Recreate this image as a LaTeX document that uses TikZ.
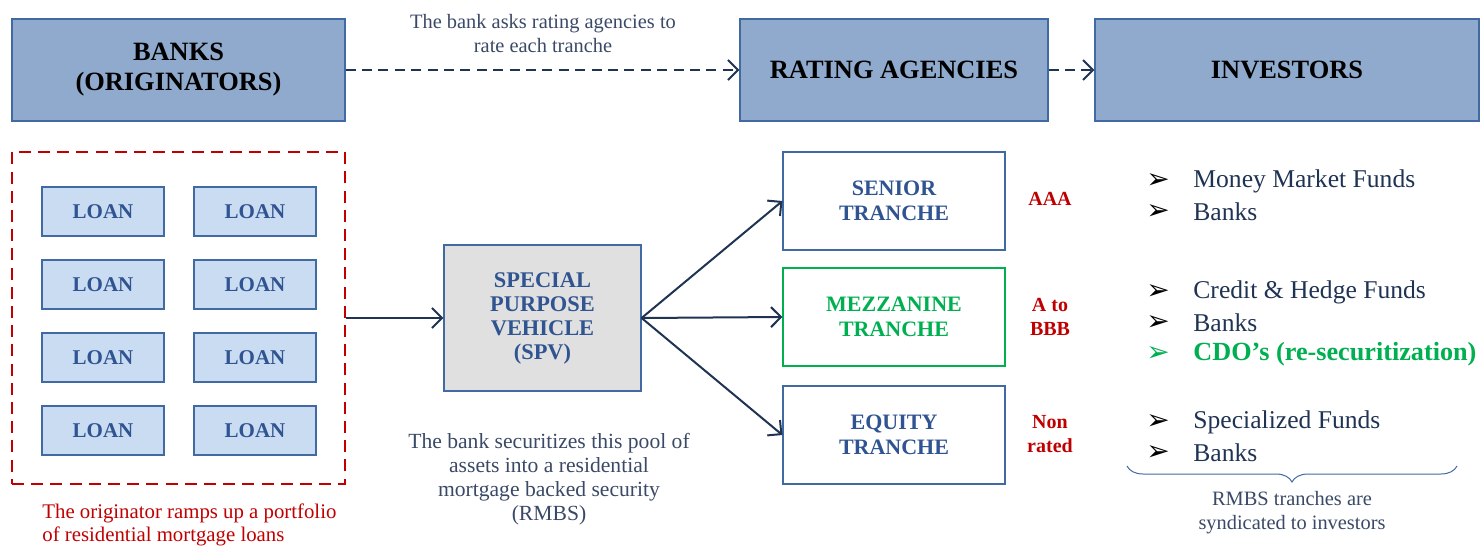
\documentclass[tikz,border=0pt]{standalone}
\usepackage{fontspec}
\setmainfont{Liberation Serif}
\newfontfamily\symfont{DejaVu Sans}
\usetikzlibrary{shapes.geometric, arrows.meta, positioning, decorations.pathreplacing}
\definecolor{headblue}{HTML}{8FAACC}
\definecolor{edgeblue}{HTML}{416AA3}
\definecolor{loanblue}{HTML}{C9DCF2}
\definecolor{inkblue}{HTML}{2F5491}
\definecolor{navy}{HTML}{1F3352}
\definecolor{slate}{HTML}{3A4966}
\definecolor{spvgray}{HTML}{E0E0E0}
\definecolor{mezzgreen}{HTML}{00B050}
\definecolor{rateRed}{HTML}{C00000}

\begin{document}
\begin{tikzpicture}[x=0.5pt, y=-0.5pt]
\tikzstyle{head} = [rectangle, minimum height=51pt, text centered, draw=edgeblue, line width=0.6pt, fill=headblue, font=\fontsize{13.2}{15}\selectfont\bfseries, align=center]
\tikzstyle{loan} = [rectangle, minimum width=61pt, minimum height=24.5pt, draw=edgeblue, line width=0.6pt, fill=loanblue, text=inkblue, font=\fontsize{10.5}{12}\selectfont\bfseries]
\tikzstyle{tranche} = [rectangle, minimum width=111pt, minimum height=49pt, draw=edgeblue, line width=0.6pt, text=inkblue, align=center, font=\fontsize{11}{12.5}\selectfont\bfseries]
\tikzstyle{rating} = [text=rateRed, align=center, font=\fontsize{10}{12}\selectfont\bfseries]
\tikzstyle{note} = [text=slate, align=center, font=\fontsize{10.2}{12}\selectfont]
\tikzstyle{item} = [anchor=west, text=navy, font=\fontsize{12.8}{14}\selectfont, inner sep=0pt]
\tikzstyle{tick} = [anchor=west, font=\symfont\fontsize{14}{14}\selectfont, inner sep=0pt]
\tikzstyle{flow} = [draw=navy, line width=1pt, -{Straight Barb[length=5pt, width=10pt, line width=1pt]}]

\useasboundingbox (0,0) rectangle (1481,546);

% Top row
\node (banks) [head, minimum width=166.5pt] at (178.5,70) {BANKS\\(ORIGINATORS)};
\node (agencies) [head, minimum width=154pt] at (894,70) {RATING AGENCIES};
\node (investors) [head, minimum width=192pt] at (1287,70) {INVESTORS};

\draw [flow, line width=1.4pt, dash pattern=on 5pt off 3.2pt] (banks) -- (agencies);
\draw [flow, line width=1.4pt, dash pattern=on 5pt off 3.2pt] (agencies) -- (investors);
\node (asknote) [note] at (543,34) {The bank asks rating agencies to\\rate each tranche};

% Pool of loans
\node (pool) [rectangle, minimum width=166.5pt, minimum height=166pt, draw=rateRed, line width=1.3pt, dash pattern=on 6pt off 3.6pt] at (178.5,318) {};
\node (loanA) [loan] at (103,211.5) {LOAN};
\node (loanB) [loan] at (255,211.5) {LOAN};
\node (loanC) [loan] at (103,284.5) {LOAN};
\node (loanD) [loan] at (255,284.5) {LOAN};
\node (loanE) [loan] at (103,357.5) {LOAN};
\node (loanF) [loan] at (255,357.5) {LOAN};
\node (loanG) [loan] at (103,430.5) {LOAN};
\node (loanH) [loan] at (255,430.5) {LOAN};
\node (poolnote) [note, text=rateRed, align=left, anchor=north west, inner sep=0pt, font=\fontsize{10.4}{11.5}\selectfont] at (42,503) {The originator ramps up a portfolio\\of residential mortgage loans};

% SPV
\node (spv) [tranche, minimum width=98.5pt, minimum height=73pt, fill=spvgray, font=\fontsize{11.2}{12}\selectfont\bfseries] at (542.5,318) {SPECIAL\\PURPOSE\\VEHICLE\\(SPV)};
\node (spvnote) [note, font=\fontsize{10.8}{12}\selectfont] at (549,479) {The bank securitizes this pool of\\assets into a residential\\mortgage backed security\\(RMBS)};
\draw [flow] (pool) -- (spv);

% Tranches
\node (senior) [tranche] at (894,201) {SENIOR\\TRANCHE};
\node (mezz) [tranche, draw=mezzgreen, text=mezzgreen] at (894,317) {MEZZANINE\\TRANCHE};
\node (equity) [tranche] at (894,435) {EQUITY\\TRANCHE};
\draw [flow] (spv.east) -- (senior.west);
\draw [flow] (spv.east) -- (mezz.west);
\draw [flow] (spv.east) -- (equity.west);

\node (rateA) [rating] at (1050,199) {AAA};
\node (rateB) [rating] at (1050,317) {A to\\BBB};
\node (rateC) [rating] at (1050,434) {Non\\rated};

% Investor lists
\node (tickA) [tick] at (1146,181) {➢};
\node (itemA) [item] at (1193,181) {Money Market Funds};
\node (tickB) [tick] at (1146,212) {➢};
\node (itemB) [item] at (1193,212) {Banks};
\node (tickC) [tick] at (1146,292) {➢};
\node (itemC) [item] at (1193,292) {Credit \& Hedge Funds};
\node (tickD) [tick] at (1146,323) {➢};
\node (itemD) [item] at (1193,323) {Banks};
\node (tickE) [tick, text=mezzgreen] at (1146,354) {➢};
\node (itemE) [item, text=mezzgreen, font=\fontsize{13.1}{14}\selectfont\bfseries] at (1193,354) {CDO’s (re-securitization)};
\node (tickF) [tick] at (1146,422) {➢};
\node (itemF) [item] at (1193,422) {Specialized Funds};
\node (tickG) [tick] at (1146,453) {➢};
\node (itemG) [item] at (1193,453) {Banks};

\coordinate (braceL) at (1127,466);
\coordinate (braceR) at (1457,466);
\draw [draw=edgeblue, line width=0.5pt, decorate, decoration={brace, mirror, amplitude=8pt}] (braceL) -- (braceR);
\node (syndnote) [note] at (1292,513) {RMBS tranches are\\syndicated to investors};

\end{tikzpicture}
\end{document}
